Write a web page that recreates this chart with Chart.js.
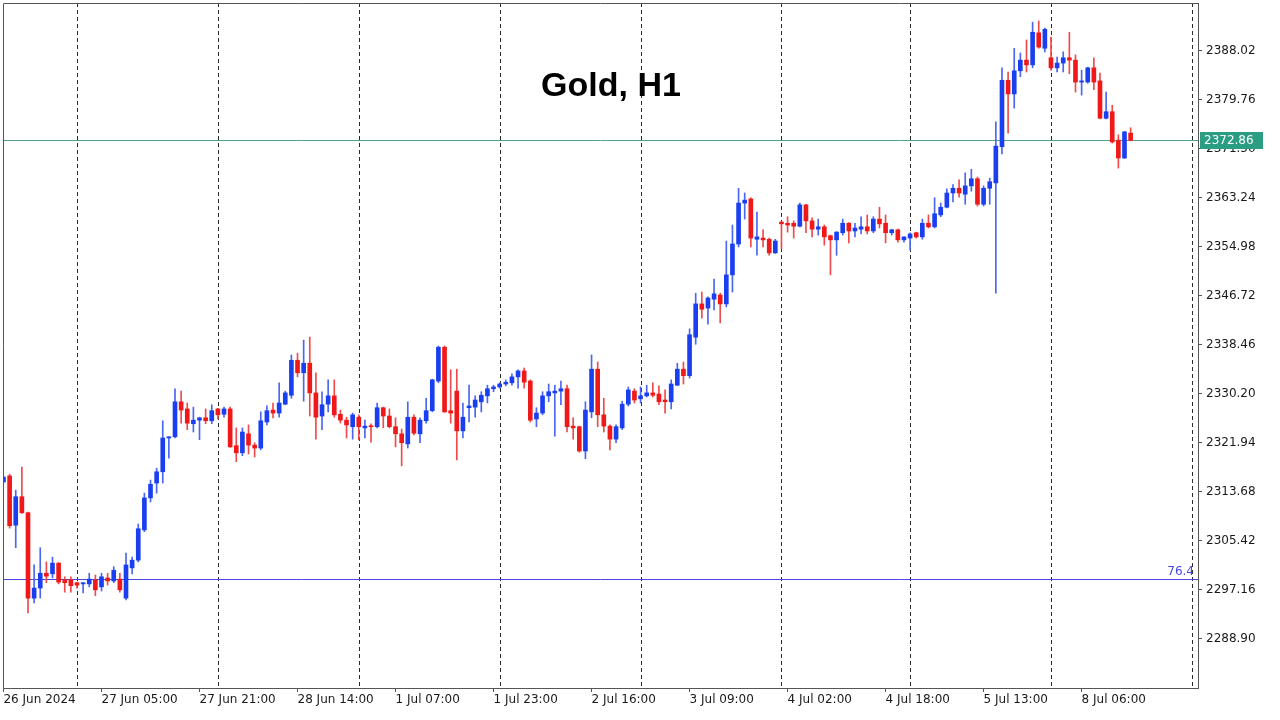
<!DOCTYPE html>
<html>
<head>
<meta charset="utf-8">
<title>Gold, H1</title>
<script src="https://cdn.jsdelivr.net/npm/chart.js@4.4.1/dist/chart.umd.min.js"></script>
<style>
  html, body { margin: 0; padding: 0; background: #ffffff; }
  #wrap { width: 1280px; height: 720px; position: relative; }
</style>
</head>
<body>
<div id="wrap"><canvas id="goldChart"></canvas></div>
<script>
// Gold H1 candles, 26 Jun 2024 12:00 .. 8 Jul 2024 ~13:00 (bar index = position on the x axis)
const opens = [
  2315.3, 2316.3, 2308.0, 2312.8, 2310.1, 2295.7, 2297.4, 2299.9, 2299.8, 2301.6,
  2298.8, 2298.8, 2298.3, 2298.1, 2298.1, 2298.8, 2297.6, 2299.1, 2298.6, 2298.9,
  2295.7, 2300.8, 2302.1, 2307.2, 2312.6, 2315.1, 2317.0, 2322.7, 2322.9, 2328.8,
  2327.6, 2325.1, 2325.7, 2326.1, 2325.6, 2327.6, 2326.7, 2327.6, 2321.4, 2320.2,
  2323.4, 2321.5, 2321.0, 2325.4, 2327.4, 2326.9, 2328.4, 2329.9, 2335.8, 2333.7,
  2335.3, 2330.3, 2326.4, 2328.4, 2329.8, 2326.7, 2325.7, 2324.6, 2326.2, 2324.4,
  2324.7, 2324.6, 2327.8, 2326.4, 2324.6, 2323.4, 2321.7, 2326.2, 2323.4, 2325.6,
  2327.3, 2332.3, 2338.0, 2327.3, 2330.6, 2323.9, 2327.8, 2327.9, 2328.8, 2329.8,
  2331.0, 2331.3, 2331.8, 2332.0, 2333.0, 2334.0, 2332.3, 2325.9, 2326.9, 2329.8,
  2330.3, 2330.6, 2331.0, 2324.7, 2324.6, 2320.5, 2327.1, 2334.3, 2326.6, 2324.7,
  2322.5, 2324.4, 2328.4, 2330.6, 2329.3, 2329.8, 2330.3, 2330.1, 2329.1, 2328.8,
  2331.6, 2334.3, 2333.2, 2339.7, 2345.3, 2344.6, 2346.1, 2346.8, 2345.3, 2350.2,
  2355.4, 2362.3, 2363.0, 2356.2, 2356.4, 2356.2, 2353.9, 2359.1, 2358.9, 2358.9,
  2358.4, 2362.0, 2359.3, 2357.9, 2358.3, 2356.8, 2356.1, 2357.3, 2358.9, 2357.6,
  2357.9, 2358.3, 2357.6, 2359.6, 2358.9, 2357.3, 2357.8, 2356.1, 2356.4, 2357.3,
  2356.6, 2358.9, 2358.3, 2360.3, 2361.6, 2364.0, 2364.8, 2363.8, 2365.2, 2366.4,
  2362.1, 2364.8, 2365.7, 2371.8, 2383.0, 2380.7, 2384.6, 2386.4, 2385.6, 2391.0,
  2388.4, 2386.8, 2385.1, 2385.9, 2386.8, 2386.4, 2382.7, 2382.7, 2385.1, 2382.9,
  2376.6, 2377.7, 2372.9, 2369.9, 2374.1
];
const highs = [
  2316.3, 2316.6, 2313.9, 2317.8, 2310.2, 2301.3, 2304.2, 2301.8, 2302.6, 2301.7,
  2299.3, 2299.3, 2298.4, 2298.3, 2299.9, 2299.6, 2299.9, 2299.9, 2301.0, 2299.9,
  2303.3, 2302.6, 2308.2, 2313.4, 2315.6, 2317.6, 2325.6, 2322.9, 2331.0, 2330.6,
  2328.6, 2327.9, 2326.2, 2327.6, 2328.3, 2327.7, 2327.9, 2327.9, 2324.4, 2324.4,
  2324.9, 2321.9, 2327.1, 2328.1, 2328.6, 2332.0, 2330.6, 2336.7, 2337.0, 2339.2,
  2339.7, 2333.7, 2330.5, 2332.5, 2332.5, 2327.4, 2326.2, 2326.9, 2326.6, 2325.7,
  2325.1, 2328.6, 2327.9, 2327.6, 2326.1, 2324.2, 2328.8, 2326.6, 2326.1, 2329.4,
  2332.6, 2338.2, 2338.2, 2334.2, 2334.3, 2328.6, 2331.6, 2329.8, 2330.5, 2331.6,
  2331.6, 2332.0, 2332.5, 2333.5, 2334.2, 2334.5, 2332.5, 2327.8, 2330.5, 2331.8,
  2331.6, 2332.3, 2331.6, 2326.1, 2324.7, 2328.8, 2336.7, 2335.5, 2329.4, 2324.9,
  2324.9, 2328.9, 2331.3, 2331.0, 2331.3, 2331.6, 2332.0, 2331.5, 2330.8, 2332.5,
  2335.3, 2335.5, 2341.1, 2347.1, 2347.3, 2346.5, 2349.5, 2347.1, 2355.9, 2358.6,
  2364.8, 2364.0, 2363.2, 2360.8, 2357.8, 2356.4, 2356.2, 2359.2, 2360.0, 2359.3,
  2362.3, 2362.1, 2359.8, 2359.6, 2358.6, 2356.9, 2357.5, 2359.6, 2359.0, 2358.9,
  2360.0, 2360.3, 2360.0, 2361.6, 2360.3, 2357.9, 2357.9, 2356.6, 2357.3, 2357.4,
  2359.6, 2360.3, 2363.2, 2362.3, 2364.7, 2365.4, 2366.2, 2367.4, 2368.0, 2366.7,
  2365.2, 2366.5, 2376.0, 2385.1, 2384.4, 2388.4, 2387.6, 2389.8, 2392.8, 2393.0,
  2391.8, 2390.3, 2386.9, 2387.8, 2391.1, 2387.3, 2384.7, 2385.2, 2386.8, 2384.2,
  2381.0, 2378.8, 2373.8, 2374.4, 2375.0
];
const lows = [
  2315.1, 2307.5, 2304.2, 2310.0, 2293.2, 2294.9, 2295.7, 2298.3, 2299.1, 2298.1,
  2296.7, 2296.7, 2297.4, 2296.6, 2297.6, 2296.1, 2296.9, 2297.9, 2298.3, 2296.7,
  2295.4, 2299.8, 2301.8, 2306.9, 2311.9, 2313.4, 2315.1, 2319.3, 2322.7, 2325.2,
  2324.1, 2323.7, 2322.4, 2325.1, 2325.1, 2325.9, 2326.2, 2321.1, 2318.7, 2319.7,
  2320.0, 2319.5, 2320.7, 2324.9, 2326.1, 2326.2, 2328.3, 2329.4, 2333.0, 2328.9,
  2326.4, 2322.5, 2324.1, 2327.1, 2326.2, 2325.2, 2322.7, 2322.5, 2322.4, 2322.7,
  2322.0, 2324.4, 2324.4, 2324.4, 2321.2, 2318.0, 2321.0, 2323.2, 2321.9, 2325.2,
  2327.1, 2332.0, 2327.0, 2325.2, 2319.0, 2322.7, 2325.4, 2326.2, 2327.1, 2328.6,
  2330.5, 2331.1, 2331.5, 2331.6, 2331.1, 2331.1, 2325.4, 2324.6, 2326.6, 2328.8,
  2323.0, 2328.3, 2323.7, 2322.5, 2320.3, 2319.2, 2326.1, 2324.6, 2323.7, 2320.7,
  2321.9, 2324.1, 2328.1, 2328.6, 2328.6, 2329.6, 2329.6, 2328.3, 2326.9, 2327.6,
  2331.5, 2331.8, 2332.8, 2338.5, 2342.9, 2341.9, 2344.3, 2342.1, 2344.8, 2347.3,
  2354.9, 2359.6, 2354.9, 2353.5, 2354.9, 2353.5, 2353.8, 2354.6, 2357.4, 2356.4,
  2358.3, 2357.3, 2356.6, 2356.9, 2355.2, 2350.2, 2353.5, 2356.9, 2355.6, 2356.6,
  2357.1, 2357.1, 2357.3, 2358.1, 2355.6, 2356.9, 2355.7, 2355.7, 2354.4, 2356.4,
  2356.2, 2358.1, 2358.1, 2360.0, 2361.5, 2362.5, 2363.3, 2362.1, 2364.3, 2361.8,
  2361.8, 2362.1, 2347.1, 2370.6, 2374.1, 2378.3, 2383.6, 2384.4, 2385.1, 2388.4,
  2387.8, 2384.7, 2384.4, 2384.4, 2384.1, 2381.0, 2380.5, 2382.5, 2381.4, 2376.5,
  2376.5, 2372.4, 2368.2, 2369.8, 2372.8
];
const closes = [
  2316.1, 2307.9, 2312.8, 2310.1, 2295.7, 2297.4, 2299.9, 2299.4, 2301.6, 2298.4,
  2298.3, 2297.8, 2297.9, 2298.3, 2298.9, 2297.1, 2299.3, 2298.6, 2300.4, 2297.1,
  2301.3, 2302.1, 2307.4, 2312.6, 2314.9, 2317.0, 2322.7, 2322.9, 2328.8, 2327.4,
  2325.2, 2325.7, 2326.1, 2325.6, 2327.3, 2326.6, 2327.6, 2321.2, 2320.2, 2323.7,
  2321.5, 2321.0, 2325.6, 2327.3, 2326.9, 2328.6, 2330.3, 2335.8, 2333.7, 2335.3,
  2330.3, 2326.2, 2328.3, 2329.8, 2326.6, 2325.7, 2324.9, 2326.6, 2324.6, 2324.7,
  2324.6, 2327.8, 2326.4, 2324.6, 2323.4, 2321.9, 2326.2, 2323.5, 2325.7, 2327.3,
  2332.5, 2338.0, 2327.1, 2326.9, 2323.9, 2326.2, 2328.1, 2329.1, 2329.9, 2331.0,
  2331.3, 2331.8, 2332.1, 2333.0, 2334.0, 2332.1, 2325.7, 2326.9, 2329.8, 2330.5,
  2330.6, 2331.0, 2324.6, 2324.4, 2320.5, 2327.4, 2334.3, 2326.6, 2324.7, 2322.5,
  2324.6, 2328.4, 2330.8, 2329.1, 2329.8, 2330.3, 2329.9, 2328.8, 2328.8, 2331.8,
  2334.3, 2333.2, 2340.1, 2345.3, 2344.4, 2346.3, 2347.0, 2345.3, 2350.2, 2355.4,
  2362.3, 2362.8, 2356.4, 2356.6, 2356.1, 2353.9, 2355.9, 2358.8, 2358.6, 2358.4,
  2362.0, 2359.3, 2357.9, 2358.3, 2356.6, 2356.1, 2357.4, 2358.9, 2357.6, 2358.1,
  2358.3, 2357.6, 2359.6, 2358.8, 2357.3, 2357.8, 2356.1, 2356.6, 2357.1, 2356.6,
  2358.9, 2358.3, 2360.5, 2361.6, 2364.0, 2364.8, 2364.0, 2365.2, 2366.4, 2362.1,
  2364.8, 2365.9, 2371.9, 2383.0, 2380.7, 2384.6, 2386.4, 2385.6, 2391.1, 2388.6,
  2391.6, 2385.1, 2385.9, 2386.8, 2386.4, 2382.7, 2382.9, 2385.1, 2382.7, 2376.6,
  2377.7, 2372.6, 2369.9, 2374.3, 2372.86
];

// first bar of each trading day (period separators)
const dayStarts = [12, 35, 58, 81, 104, 127, 148, 171, 194];
// time axis labels
const timeTickIdx = [0, 16, 32, 48, 64, 80, 96, 112, 128, 144, 160, 176];
const timeTickText = ['26 Jun 2024', '27 Jun 05:00', '27 Jun 21:00', '28 Jun 14:00',
  '1 Jul 07:00', '1 Jul 23:00', '2 Jul 16:00', '3 Jul 09:00', '4 Jul 02:00',
  '4 Jul 18:00', '5 Jul 13:00', '8 Jul 06:00'];
// price axis labels
const priceTicks = [2288.90, 2297.16, 2305.42, 2313.68, 2321.94, 2330.20, 2338.46,
  2346.72, 2354.98, 2363.24, 2371.50, 2379.76, 2388.02];
const bidPrice = 2372.86;
const fibPrice = 2298.93;
const fibLabel = '76.4';
const chartTitle = 'Gold, H1';

const BULL = '#1a3ff0';
const BEAR = '#f01818';
const BULL_WICK = '#4a66f2';
const BEAR_WICK = '#f04a4a';
const FIB_COLOR = '#4646e0';
const FONT = '"DejaVu Sans", "Liberation Sans", sans-serif';

const isBull = opens.map((o, i) => closes[i] >= o);

const bodyData = opens.map((o, i) => ({ x: i, y: [Math.min(o, closes[i]), Math.max(o, closes[i])] }));
const wickData = lows.map((l, i) => ({ x: i, y: [l, highs[i]] }));

// separators, level lines, price tag, title, frame
const overlayPlugin = {
    id: 'overlay',
    beforeDatasetsDraw(chart) {
        const { ctx, chartArea: a, scales: { x, y } } = chart;
        ctx.save();
        ctx.beginPath();
        ctx.rect(a.left, a.top, a.right - a.left, a.bottom - a.top);
        ctx.clip();

        // day separators
        ctx.strokeStyle = '#2a2a2a';
        ctx.lineWidth = 1;
        ctx.setLineDash([4, 3]);
        dayStarts.forEach(d => {
            const px = Math.round(x.getPixelForValue(d)) + 0.5;
            ctx.beginPath();
            ctx.moveTo(px, a.top);
            ctx.lineTo(px, a.bottom);
            ctx.stroke();
        });
        ctx.setLineDash([]);

        // bid line
        const by = Math.round(y.getPixelForValue(bidPrice)) + 0.5;
        ctx.strokeStyle = '#4fa58a';
        ctx.beginPath();
        ctx.moveTo(a.left, by);
        ctx.lineTo(a.right, by);
        ctx.stroke();

        // fibo level line
        const fy = Math.round(y.getPixelForValue(fibPrice)) + 0.5;
        ctx.strokeStyle = FIB_COLOR;
        ctx.beginPath();
        ctx.moveTo(a.left, fy);
        ctx.lineTo(a.right, fy);
        ctx.stroke();
        ctx.fillStyle = FIB_COLOR;
        ctx.font = '12px ' + FONT;
        ctx.textAlign = 'right';
        ctx.textBaseline = 'bottom';
        ctx.fillText(fibLabel, a.right - 4, fy - 2);

        // title
        ctx.fillStyle = '#000000';
        ctx.font = 'bold 34px "Liberation Sans", Arial, sans-serif';
        ctx.textAlign = 'center';
        ctx.textBaseline = 'middle';
        ctx.fillText(chartTitle, 611, 87);
        ctx.restore();
    },
    afterDraw(chart) {
        const { ctx, chartArea: a, scales: { y } } = chart;
        ctx.save();
        // frame top / left
        ctx.strokeStyle = '#555555';
        ctx.lineWidth = 1;
        ctx.beginPath();
        ctx.moveTo(a.left + 0.5, a.bottom);
        ctx.lineTo(a.left + 0.5, a.top + 0.5);
        ctx.lineTo(a.right, a.top + 0.5);
        ctx.stroke();

        // bid price tag on the axis
        const by = Math.round(y.getPixelForValue(bidPrice));
        ctx.fillStyle = '#2a9d82';
        ctx.fillRect(a.right + 2, by - 8, 63, 17);
        ctx.fillStyle = '#ffffff';
        ctx.font = '12px ' + FONT;
        ctx.textAlign = 'left';
        ctx.textBaseline = 'middle';
        ctx.fillText(bidPrice.toFixed(2), a.right + 6, by + 1);
        ctx.restore();
    }
};

const ctx = document.getElementById('goldChart').getContext('2d');
const goldChart = new Chart(ctx, {
    type: 'bar',
    data: {
        datasets: [
            {
                label: 'body',
                data: bodyData,
                backgroundColor: isBull.map(b => b ? BULL : BEAR),
                borderWidth: 0,
                barThickness: 4,
                minBarLength: 1,
                grouped: false
            },
            {
                label: 'wick',
                data: wickData,
                backgroundColor: isBull.map(b => b ? BULL_WICK : BEAR_WICK),
                borderWidth: 0,
                barThickness: 1,
                minBarLength: 1,
                grouped: false
            }
        ]
    },
    options: {
        responsive: true,
        maintainAspectRatio: false,
        animation: false,
        events: [],
        layout: { padding: { left: 3, top: 3, right: 0, bottom: 0 } },
        plugins: {
            legend: { display: false },
            tooltip: { enabled: false },
            title: { display: false }
        },
        scales: {
            x: {
                type: 'linear',
                min: -0.08,
                max: 195.0,
                offset: false,
                afterBuildTicks: (scale) => {
                    scale.ticks = timeTickIdx.map(v => ({ value: v }));
                },
                afterFit: (scale) => {
                    scale.height = 32;
                    scale.paddingLeft = 0;
                    scale.paddingRight = 0;
                },
                grid: {
                    display: true,
                    offset: false,
                    drawOnChartArea: false,
                    drawTicks: true,
                    tickLength: 4,
                    color: '#555555'
                },
                border: { display: true, color: '#555555' },
                ticks: {
                    autoSkip: false,
                    maxRotation: 0,
                    minRotation: 0,
                    align: 'start',
                    padding: 1,
                    color: '#1a1a1a',
                    font: { family: FONT, size: 12 },
                    callback: (value, index) => timeTickText[index]
                }
            },
            y: {
                position: 'right',
                min: 2280.55,
                max: 2396.03,
                afterBuildTicks: (scale) => {
                    scale.ticks = priceTicks.map(v => ({ value: v }));
                },
                afterFit: (scale) => {
                    scale.width = 82;
                    scale.paddingTop = 0;
                    scale.paddingBottom = 0;
                },
                grid: {
                    display: true,
                    drawOnChartArea: false,
                    drawTicks: true,
                    tickLength: 4,
                    color: '#555555'
                },
                border: { display: true, color: '#555555' },
                ticks: {
                    padding: 4,
                    color: '#1a1a1a',
                    font: { family: FONT, size: 12 },
                    callback: (value) => Number(value).toFixed(2)
                }
            }
        }
    },
    plugins: [overlayPlugin]
});
</script>
</body>
</html>
